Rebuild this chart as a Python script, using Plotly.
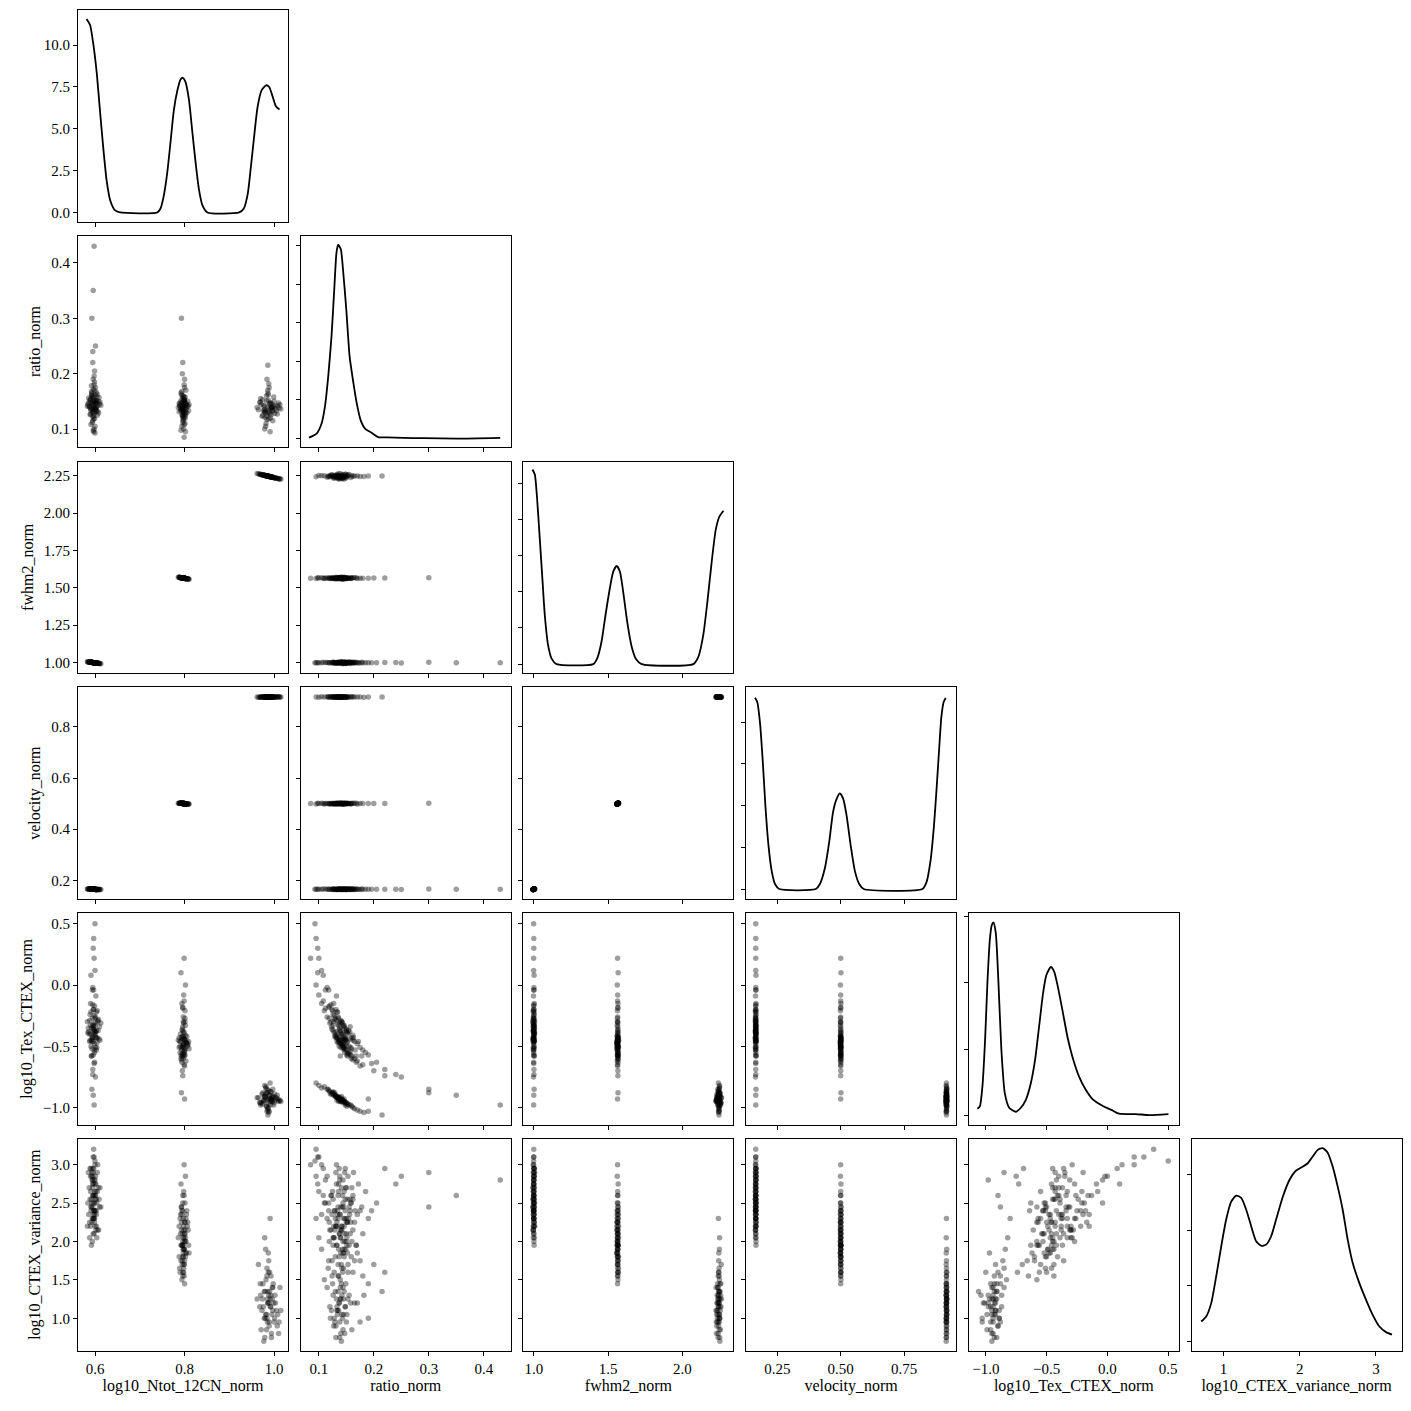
import plotly.graph_objects as go

labels = ["log10_Ntot_12CN_norm", "ratio_norm", "fwhm2_norm", "velocity_norm",
          "log10_Tex_CTEX_norm", "log10_CTEX_variance_norm"]

# ---- posterior samples, mode A ----
ntot_a = [0.596, 0.592, 0.601, 0.598, 0.594, 0.603, 0.589, 0.599, 0.595, 0.606, 0.591, 0.600, 0.597, 0.593, 0.602,
          0.588, 0.604, 0.596, 0.599, 0.594, 0.601, 0.597, 0.590, 0.607, 0.598, 0.595, 0.600, 0.592, 0.603, 0.596,
          0.598, 0.594, 0.605, 0.590, 0.599, 0.597, 0.601, 0.593, 0.596, 0.598, 0.595, 0.600, 0.592, 0.602, 0.597,
          0.583, 0.611, 0.597, 0.586, 0.608, 0.594, 0.600, 0.591, 0.604, 0.589, 0.613, 0.596, 0.599, 0.585, 0.602,
          0.593, 0.606, 0.598, 0.590, 0.603, 0.595, 0.600, 0.587, 0.609, 0.597, 0.592, 0.601, 0.596, 0.584, 0.605,
          0.594, 0.599, 0.591, 0.603, 0.598, 0.595, 0.600, 0.588, 0.610, 0.596]
ratio_a = [0.145, 0.138, 0.152, 0.128, 0.160, 0.133, 0.148, 0.170, 0.122, 0.142, 0.155, 0.136, 0.118, 0.165, 0.146,
           0.140, 0.158, 0.131, 0.150, 0.112, 0.175, 0.143, 0.127, 0.150, 0.180, 0.135, 0.105, 0.162, 0.139, 0.190,
           0.100, 0.147, 0.125, 0.153, 0.205, 0.095, 0.250, 0.300, 0.350, 0.430, 0.220, 0.093, 0.168, 0.132, 0.157,
           0.141, 0.149, 0.137, 0.156, 0.129, 0.144, 0.162, 0.134, 0.151, 0.126, 0.143, 0.172, 0.119, 0.147, 0.139,
           0.159, 0.132, 0.154, 0.136, 0.166, 0.115, 0.146, 0.141, 0.157, 0.124, 0.178, 0.135, 0.150, 0.144, 0.163,
           0.130, 0.185, 0.108, 0.148, 0.196, 0.240, 0.138, 0.152, 0.145, 0.098]
fwhm2_a = [1.000, 1.002, 0.998, 0.999, 1.001, 0.997, 1.004, 0.999, 1.001, 0.996, 1.003, 0.999, 1.000, 1.002, 0.998,
           1.004, 0.997, 1.000, 0.999, 1.001, 0.998, 1.000, 1.003, 0.996, 0.999, 1.001, 0.999, 1.002, 0.997, 1.000,
           0.999, 1.001, 0.997, 1.003, 0.999, 1.000, 0.998, 1.002, 1.000, 0.999, 1.001, 0.999, 1.002, 0.998, 1.000,
           1.006, 0.994, 1.000, 1.004, 0.996, 1.001, 0.999, 1.002, 0.997, 1.003, 0.993, 1.000, 0.999, 1.005, 0.998,
           1.002, 0.996, 0.999, 1.003, 0.997, 1.001, 0.999, 1.004, 0.995, 1.000, 1.002, 0.998, 1.000, 1.005, 0.997,
           1.001, 0.999, 1.002, 0.997, 0.999, 1.001, 0.999, 1.003, 0.995, 1.000]
vel_a = [0.165, 0.166, 0.164, 0.165, 0.166, 0.164, 0.166, 0.165, 0.165, 0.164, 0.166, 0.165, 0.165, 0.166, 0.164,
         0.166, 0.164, 0.165, 0.165, 0.166, 0.164, 0.165, 0.166, 0.164, 0.165, 0.165, 0.165, 0.166, 0.164, 0.165,
         0.165, 0.166, 0.164, 0.166, 0.165, 0.165, 0.164, 0.166, 0.165, 0.165, 0.165, 0.165, 0.166, 0.164, 0.165,
         0.166, 0.164, 0.165, 0.166, 0.164, 0.165, 0.165, 0.166, 0.164, 0.166, 0.164, 0.165, 0.165, 0.166, 0.164,
         0.166, 0.164, 0.165, 0.166, 0.164, 0.165, 0.165, 0.166, 0.164, 0.165, 0.166, 0.164, 0.165, 0.166, 0.164,
         0.165, 0.165, 0.166, 0.164, 0.165, 0.165, 0.165, 0.166, 0.164, 0.165]
tex_a = [-0.33, -0.35, -0.39, -0.25, -0.43, -0.22, -0.45, -0.48, -0.16, -0.30, -0.50, -0.27, -0.04, -0.46, -0.43,
         -0.29, -0.51, -0.20, -0.38, -0.04, -0.51, -0.40, -0.15, -0.37, -0.53, -0.32, 0.12, -0.45, -0.37, -0.57,
         0.22, -0.44, -0.21, -0.40, -0.63, 0.38, -0.75, -0.85, -0.90, -0.98, -0.69, 0.50, -0.58, -0.09, -0.34,
         -0.30, -0.45, -0.36, -0.38, -0.28, -0.42, -0.41, -0.22, -0.47, -0.24, -0.31, -0.46, -0.17, -0.35, -0.38,
         -0.52, -0.29, -0.37, -0.33, -0.53, -0.02, -0.33, -0.40, -0.44, -0.20, -0.58, -0.26, -0.36, -0.39, -0.43,
         -0.27, -0.55, 0.08, -0.43, -0.64, -0.73, -0.31, -0.46, -0.34, 0.30]
var_a = [2.30, 2.85, 2.55, 2.40, 2.70, 2.20, 2.95, 2.35, 2.60, 2.15, 2.45, 2.75, 2.50, 2.25, 2.65,
         2.05, 2.50, 2.90, 2.30, 2.80, 2.40, 2.60, 2.20, 2.70, 2.10, 2.45, 3.00, 2.55, 2.35, 2.30,
         3.10, 2.00, 2.65, 2.85, 2.50, 3.20, 2.85, 2.90, 2.60, 2.80, 2.95, 3.05, 1.95, 2.75, 2.40,
         2.20, 2.70, 2.95, 2.35, 2.15, 2.80, 2.60, 2.40, 2.05, 2.55, 2.45, 2.75, 2.25, 2.90, 2.15,
         2.50, 3.00, 2.30, 2.65, 2.40, 2.85, 2.20, 2.70, 2.55, 2.35, 2.45, 2.60, 2.10, 2.50, 2.90,
         2.30, 2.65, 2.95, 2.55, 2.40, 2.75, 2.80, 2.25, 2.45, 3.10]

# ---- mode B ----
ntot_b = [0.797, 0.793, 0.801, 0.795, 0.799, 0.804, 0.790, 0.798, 0.796, 0.802, 0.794, 0.800, 0.797, 0.792, 0.806,
          0.799, 0.795, 0.801, 0.798, 0.791, 0.803, 0.796, 0.800, 0.794, 0.799, 0.797, 0.808, 0.788, 0.798, 0.795,
          0.802, 0.796, 0.799, 0.793, 0.801, 0.797, 0.794, 0.800, 0.796, 0.799,
          0.786, 0.810, 0.798, 0.792, 0.803, 0.795, 0.800, 0.789, 0.805, 0.797, 0.793, 0.801, 0.796, 0.807, 0.791,
          0.799, 0.794, 0.802, 0.798, 0.788, 0.804, 0.796, 0.800, 0.795, 0.809, 0.790, 0.801, 0.797, 0.793, 0.799,
          0.803, 0.796, 0.800, 0.792, 0.798]
ratio_b = [0.140, 0.133, 0.147, 0.126, 0.153, 0.138, 0.143, 0.120, 0.160, 0.130, 0.148, 0.136, 0.115, 0.165, 0.142,
           0.128, 0.155, 0.110, 0.145, 0.137, 0.170, 0.123, 0.150, 0.105, 0.180, 0.132, 0.141, 0.146, 0.100, 0.200,
           0.095, 0.220, 0.085, 0.300, 0.158, 0.127, 0.139, 0.190, 0.118, 0.149,
           0.139, 0.144, 0.131, 0.151, 0.135, 0.124, 0.157, 0.142, 0.129, 0.146, 0.162, 0.119, 0.137, 0.150, 0.134,
           0.141, 0.168, 0.126, 0.153, 0.131, 0.145, 0.112, 0.175, 0.138, 0.133, 0.147, 0.122, 0.159, 0.140, 0.108,
           0.144, 0.135, 0.152, 0.098, 0.143]
fwhm2_b = [1.565, 1.567, 1.563, 1.566, 1.564, 1.561, 1.569, 1.565, 1.566, 1.562, 1.567, 1.564, 1.565, 1.568, 1.560,
           1.564, 1.566, 1.563, 1.565, 1.568, 1.562, 1.566, 1.564, 1.567, 1.564, 1.565, 1.559, 1.570, 1.565, 1.566,
           1.562, 1.566, 1.564, 1.567, 1.563, 1.565, 1.567, 1.564, 1.566, 1.564,
           1.571, 1.558, 1.565, 1.568, 1.562, 1.566, 1.564, 1.570, 1.561, 1.565, 1.567, 1.563, 1.566, 1.560, 1.568,
           1.564, 1.567, 1.562, 1.565, 1.570, 1.561, 1.566, 1.564, 1.566, 1.559, 1.569, 1.563, 1.565, 1.567, 1.564,
           1.562, 1.566, 1.564, 1.568, 1.565]
vel_b = [0.500, 0.501, 0.499, 0.500, 0.500, 0.499, 0.501, 0.500, 0.500, 0.499, 0.501, 0.500, 0.500, 0.501, 0.499,
         0.500, 0.500, 0.499, 0.500, 0.501, 0.499, 0.500, 0.500, 0.501, 0.500, 0.500, 0.499, 0.501, 0.500, 0.500,
         0.499, 0.500, 0.500, 0.501, 0.499, 0.500, 0.501, 0.500, 0.500, 0.500,
         0.501, 0.499, 0.500, 0.501, 0.499, 0.500, 0.500, 0.501, 0.499, 0.500, 0.501, 0.499, 0.500, 0.499, 0.501,
         0.500, 0.501, 0.499, 0.500, 0.501, 0.499, 0.500, 0.500, 0.500, 0.499, 0.501, 0.499, 0.500, 0.501, 0.500,
         0.499, 0.500, 0.500, 0.501, 0.500]
tex_b = [-0.48, -0.43, -0.52, -0.37, -0.55, -0.47, -0.50, -0.31, -0.58, -0.41, -0.53, -0.45, -0.26, -0.60, -0.49,
         -0.39, -0.56, -0.21, -0.51, -0.46, -0.62, -0.34, -0.53, -0.15, -0.65, -0.42, -0.48, -0.51, -0.08, -0.70,
         0.00, -0.74, 0.22, -0.88, -0.57, -0.30, -0.58, -0.93, -0.18, -0.44,
         -0.45, -0.52, -0.38, -0.57, -0.47, -0.36, -0.54, -0.46, -0.42, -0.49, -0.61, -0.27, -0.50, -0.50, -0.40,
         -0.44, -0.63, -0.33, -0.56, -0.43, -0.47, -0.19, -0.66, -0.42, -0.46, -0.55, -0.30, -0.60, -0.51, -0.13,
         -0.45, -0.44, -0.58, 0.10, -0.49]
var_b = [1.85, 2.25, 2.10, 1.95, 1.70, 2.35, 1.60, 2.15, 2.00, 1.80, 2.40, 1.90, 2.30, 1.75, 2.20,
         2.05, 1.95, 2.50, 1.65, 2.10, 1.85, 2.60, 2.00, 2.35, 1.55, 1.95, 2.15, 1.80, 2.65, 1.70,
         2.85, 1.60, 3.00, 2.45, 2.25, 2.05, 1.50, 1.45, 2.40, 1.90,
         2.05, 1.85, 2.20, 1.95, 2.30, 1.75, 2.10, 1.65, 2.40, 1.90, 2.15, 2.00, 1.80, 2.25, 2.35,
         1.70, 1.95, 2.05, 1.60, 2.20, 1.85, 2.50, 1.75, 2.10, 1.95, 2.30, 2.15, 1.80, 2.45, 2.60,
         2.00, 1.55, 2.25, 2.75, 1.90]

# ---- mode C ----
ntot_c = [0.988, 0.980, 0.995, 0.975, 1.000, 0.985, 0.992, 0.970, 1.005, 0.983, 0.990, 0.978, 0.997, 0.986, 0.965,
          1.010, 0.982, 0.994, 0.987, 0.973, 1.002, 0.989, 0.979, 0.996, 0.984, 0.991, 0.968, 1.007, 0.986, 0.993,
          0.977, 0.999, 0.988, 0.981, 1.013,
          0.962, 1.015, 0.985, 0.990, 0.976, 0.998, 0.983, 0.993, 0.971, 1.003, 0.987, 0.980, 0.996, 0.989, 0.974,
          1.008, 0.984, 0.992, 0.978, 1.001, 0.986, 0.994, 0.981, 0.997, 0.969, 0.988, 1.011, 0.984, 0.991, 0.979]
ratio_c = [0.137, 0.130, 0.145, 0.125, 0.150, 0.140, 0.120, 0.155, 0.133, 0.160, 0.128, 0.143, 0.115, 0.165, 0.135,
           0.147, 0.110, 0.138, 0.152, 0.123, 0.142, 0.175, 0.100, 0.132, 0.190, 0.095, 0.148, 0.127, 0.215, 0.136,
           0.141, 0.158, 0.118, 0.134, 0.144,
           0.139, 0.136, 0.129, 0.146, 0.133, 0.141, 0.151, 0.126, 0.144, 0.137, 0.162, 0.121, 0.139, 0.131, 0.153,
           0.142, 0.117, 0.148, 0.135, 0.128, 0.170, 0.140, 0.105, 0.134, 0.149, 0.182, 0.138, 0.124, 0.145, 0.131]
fwhm2_c = [2.245, 2.251, 2.240, 2.254, 2.236, 2.247, 2.243, 2.258, 2.233, 2.249, 2.244, 2.252, 2.239, 2.247, 2.262,
           2.230, 2.250, 2.241, 2.246, 2.256, 2.235, 2.245, 2.251, 2.239, 2.248, 2.243, 2.260, 2.232, 2.247, 2.242,
           2.253, 2.237, 2.245, 2.250, 2.228,
           2.264, 2.227, 2.247, 2.244, 2.254, 2.238, 2.249, 2.242, 2.257, 2.234, 2.246, 2.251, 2.240, 2.245, 2.255,
           2.231, 2.248, 2.243, 2.253, 2.236, 2.247, 2.241, 2.250, 2.239, 2.259, 2.245, 2.229, 2.248, 2.244, 2.252]
vel_c = [0.917, 0.916, 0.918, 0.917, 0.916, 0.918, 0.917, 0.916, 0.918, 0.917, 0.917, 0.916, 0.918, 0.917, 0.916,
         0.918, 0.917, 0.917, 0.916, 0.918, 0.917, 0.917, 0.916, 0.918, 0.917, 0.917, 0.916, 0.918, 0.917, 0.917,
         0.916, 0.918, 0.917, 0.917, 0.916,
         0.917, 0.917, 0.916, 0.918, 0.917, 0.916, 0.918, 0.917, 0.917, 0.916, 0.918, 0.917, 0.917, 0.916, 0.918,
         0.917, 0.917, 0.916, 0.918, 0.917, 0.917, 0.916, 0.918, 0.917, 0.917, 0.916, 0.918, 0.917, 0.917, 0.916]
tex_c = [-0.93, -0.91, -0.95, -0.88, -0.96, -0.94, -0.87, -0.98, -0.92, -0.99, -0.90, -0.94, -0.85, -1.01, -0.92,
         -0.95, -0.83, -0.93, -0.97, -0.89, -0.94, -1.03, -0.82, -0.91, -1.03, -0.80, -0.96, -0.90, -1.06, -0.93,
         -0.95, -0.98, -0.86, -0.92, -0.94,
         -0.92, -0.95, -0.88, -0.93, -0.94, -0.91, -0.99, -0.87, -0.96, -0.92, -1.00, -0.89, -0.95, -0.90, -0.97,
         -0.93, -0.85, -0.98, -0.91, -0.89, -1.02, -0.94, -0.84, -0.92, -0.96, -1.04, -0.94, -0.88, -0.95, -0.91]
var_c = [1.20, 1.35, 1.05, 1.45, 0.95, 1.25, 1.15, 1.30, 1.10, 0.85, 1.60, 1.00, 1.40, 1.20, 1.70,
         0.80, 1.50, 0.75, 1.85, 1.10, 1.30, 0.95, 2.05, 1.25, 1.00, 2.30, 1.15, 0.90, 1.35, 1.55,
         0.70, 1.20, 1.75, 1.05, 1.40,
         1.25, 1.10, 0.95, 1.35, 1.15, 1.45, 1.05, 1.30, 0.85, 1.20, 1.60, 1.00, 1.40, 0.90, 1.25,
         1.05, 1.65, 1.15, 1.35, 1.00, 1.20, 0.80, 1.90, 1.10, 1.45, 1.30, 0.95, 1.55, 1.25, 0.75]

# ---- marginal density curves ----
kde_ntot_x = [0.581, 0.589, 0.596, 0.604, 0.611, 0.619, 0.626, 0.634, 0.645, 0.656, 0.739, 0.746, 0.753, 0.761,
              0.769, 0.776, 0.784, 0.791, 0.796, 0.802, 0.810, 0.817, 0.825, 0.832, 0.840, 0.851, 0.922, 0.932,
              0.941, 0.948, 0.956, 0.963, 0.972, 0.982, 0.989, 0.997, 1.004, 1.012]
kde_ntot_y = [11.56, 11.2, 10.1, 8.3, 6.1, 3.7, 1.9, 0.72, 0.12, 0.0, 0.0, 0.22, 0.92, 2.3,
              4.3, 6.1, 7.3, 7.95, 8.05, 7.8, 6.7, 4.9, 2.9, 1.4, 0.42, 0.0, 0.0, 0.22,
              1.1, 2.7, 4.7, 6.3, 7.3, 7.6, 7.5, 6.9, 6.35, 6.15]
kde_ratio_x = [0.082, 0.096, 0.105, 0.111, 0.117, 0.123, 0.128, 0.132, 0.135, 0.140, 0.144, 0.150, 0.156, 0.163,
               0.169, 0.176, 0.184, 0.196, 0.208, 0.224, 0.254, 0.290, 0.351, 0.430]
kde_ratio_y = [0.10, 0.52, 1.56, 3.28, 6.4, 10.56, 15.4, 19.2, 20.08, 19.6, 17.48, 13.32, 8.48, 5.72,
               3.64, 1.92, 1.04, 0.60, 0.16, 0.12, 0.08, 0.04, 0.0, 0.08]
kde_fwhm2_x = [0.991, 1.007, 1.022, 1.040, 1.059, 1.074, 1.096, 1.119, 1.153, 1.400, 1.427, 1.456, 1.483, 1.512,
               1.535, 1.558, 1.580, 1.602, 1.629, 1.659, 1.688, 1.726, 2.074, 2.108, 2.141, 2.169, 2.198, 2.225,
               2.250, 2.277]
kde_fwhm2_y = [5.39, 5.25, 4.6, 3.49, 2.29, 1.36, 0.53, 0.16, 0.0, 0.0, 0.16, 0.62, 1.36, 2.1,
               2.56, 2.72, 2.56, 2.0, 1.17, 0.48, 0.14, 0.0, 0.0, 0.2, 0.8, 1.73, 2.84, 3.72,
               4.09, 4.25]
kde_vel_x = [0.162, 0.171, 0.182, 0.193, 0.203, 0.215, 0.228, 0.241, 0.258, 0.402, 0.418, 0.438, 0.455, 0.470,
             0.484, 0.497, 0.510, 0.523, 0.539, 0.556, 0.573, 0.591, 0.822, 0.838, 0.854, 0.867, 0.878, 0.888,
             0.897, 0.906, 0.914]
kde_vel_y = [4.58, 4.48, 3.97, 3.03, 2.0, 1.06, 0.43, 0.12, 0.0, 0.0, 0.12, 0.51, 1.14, 1.85,
             2.16, 2.29, 2.16, 1.77, 1.06, 0.43, 0.12, 0.0, 0.0, 0.16, 0.67, 1.46, 2.4, 3.34,
             4.13, 4.48, 4.58]
kde_tex_x = [-1.069, -1.049, -1.028, -1.006, -0.987, -0.967, -0.951, -0.937, -0.918, -0.896, -0.872, -0.844,
             -0.808, -0.753, -0.712, -0.671, -0.630, -0.595, -0.562, -0.529, -0.502, -0.465, -0.438, -0.411,
             -0.370, -0.329, -0.288, -0.233, -0.178, -0.123, -0.041, 0.041, 0.096, 0.233, 0.343, 0.502]
kde_tex_y = [0.105, 0.14, 0.44, 1.14, 2.0, 2.65, 2.87, 2.91, 2.75, 2.0, 0.99, 0.34,
             0.12, 0.06, 0.12, 0.24, 0.49, 0.84, 1.34, 1.85, 2.12, 2.24, 2.17, 1.97,
             1.59, 1.19, 0.89, 0.59, 0.39, 0.25, 0.15, 0.08, 0.03, 0.025, 0.01, 0.025]
kde_var_x = [0.708, 0.773, 0.839, 0.904, 0.970, 1.035, 1.101, 1.166, 1.232, 1.297, 1.363, 1.428, 1.494, 1.560,
             1.625, 1.690, 1.778, 1.865, 1.953, 2.040, 2.105, 2.170, 2.236, 2.301, 2.367, 2.432, 2.498, 2.563,
             2.629, 2.695, 2.782, 2.870, 2.957, 3.045, 3.132, 3.210]
kde_var_y = [0.072, 0.090, 0.138, 0.234, 0.342, 0.438, 0.502, 0.524, 0.516, 0.474, 0.414, 0.360, 0.344, 0.348,
             0.378, 0.438, 0.520, 0.580, 0.614, 0.628, 0.640, 0.664, 0.688, 0.694, 0.678, 0.628, 0.556, 0.474,
             0.366, 0.282, 0.210, 0.150, 0.096, 0.054, 0.034, 0.025]

# ---- axes settings per parameter ----
axis_ranges = [[0.562, 1.031], [0.067, 0.449], [0.93, 2.344], [0.127, 0.955], [-1.14, 0.587], [0.58, 3.335]]
axis_ticks = [[0.6, 0.8, 1.0], [0.1, 0.2, 0.3, 0.4], [1.0, 1.5, 2.0], [0.25, 0.5, 0.75],
              [-1.0, -0.5, 0.0, 0.5], [1, 2, 3]]
axis_xfmt = [".1f", ".1f", ".1f", ".2f", ".1f", "d"]
axis_yticks = [[0.6, 0.8, 1.0], [0.1, 0.2, 0.3, 0.4], [1.0, 1.25, 1.5, 1.75, 2.0, 2.25], [0.2, 0.4, 0.6, 0.8],
               [-1.0, -0.5, 0.0, 0.5], [1.0, 1.5, 2.0, 2.5, 3.0]]
axis_yfmt = [".1f", ".1f", ".2f", ".1f", ".1f", ".1f"]
diag_ranges = [[-0.54, 12.1], [-0.9, 21.0], [-0.25, 5.61], [-0.236, 4.83], [-0.135, 3.05], [-0.032, 0.727]]
diag_ticks = [[0, 2.5, 5, 7.5, 10], [0, 4, 8, 12, 16, 20], [0, 1, 2, 3, 4, 5], [0, 1, 2, 3, 4],
              [0, 1, 2, 3], [0, 0.2, 0.4, 0.6]]

samples = [ntot_a + ntot_b + ntot_c, ratio_a + ratio_b + ratio_c, fwhm2_a + fwhm2_b + fwhm2_c,
           vel_a + vel_b + vel_c, tex_a + tex_b + tex_c, var_a + var_b + var_c]
kdes = [(kde_ntot_x, kde_ntot_y), (kde_ratio_x, kde_ratio_y), (kde_fwhm2_x, kde_fwhm2_y),
        (kde_vel_x, kde_vel_y), (kde_tex_x, kde_tex_y), (kde_var_x, kde_var_y)]

W = 1411.0
FONT = "Liberation Serif"
fig = go.Figure()
layout = {}
k = 0
for i in range(6):
    for j in range(i + 1):
        k += 1
        xn = "x" if k == 1 else f"x{k}"
        yn = "y" if k == 1 else f"y{k}"
        xl = 78 + j * 222.7
        yt = 10 + i * 225.8
        xdom = [xl / W, (xl + 210) / W]
        ydom = [1 - (yt + 211.5) / W, 1 - yt / W]
        if i == j:
            fig.add_trace(go.Scatter(x=kdes[i][0], y=kdes[i][1], mode="lines",
                                     line=dict(color="black", width=1.8, shape="spline", smoothing=0.6),
                                     xaxis=xn, yaxis=yn, hoverinfo="skip"))
        else:
            fig.add_trace(go.Scatter(x=samples[j], y=samples[i], mode="markers",
                                     marker=dict(color="rgba(0,0,0,0.38)", size=5.5, line=dict(width=0)),
                                     xaxis=xn, yaxis=yn, hoverinfo="skip"))
        common = dict(showline=True, linecolor="black", linewidth=1, mirror=True, ticks="outside",
                      ticklen=4, tickwidth=1, tickcolor="black", showgrid=False, zeroline=False,
                      tickfont=dict(family=FONT, size=15, color="black"))
        xax = dict(common, domain=xdom, anchor=yn, range=axis_ranges[j], tickmode="array",
                   tickvals=axis_ticks[j], tickformat=axis_xfmt[j], showticklabels=(i == 5))
        if i == 5:
            xax["title"] = dict(text=labels[j], font=dict(family=FONT, size=16, color="black"), standoff=4)
        if i == j:
            yax = dict(common, domain=ydom, anchor=xn, range=diag_ranges[i], tickmode="array",
                       tickvals=diag_ticks[i], tickformat=".1f", showticklabels=(i == 0))
        else:
            yax = dict(common, domain=ydom, anchor=xn, range=axis_ranges[i], tickmode="array",
                       tickvals=axis_yticks[i], tickformat=axis_yfmt[i], showticklabels=(j == 0))
            if j == 0:
                yax["title"] = dict(text=labels[i], font=dict(family=FONT, size=16, color="black"), standoff=6)
        layout["xaxis" if k == 1 else f"xaxis{k}"] = xax
        layout["yaxis" if k == 1 else f"yaxis{k}"] = yax

fig.update_layout(width=1411, height=1411, margin=dict(l=0, r=0, t=0, b=0),
                  plot_bgcolor="white", paper_bgcolor="white", showlegend=False,
                  hovermode=False, **layout)
fig.write_html("out.html")
